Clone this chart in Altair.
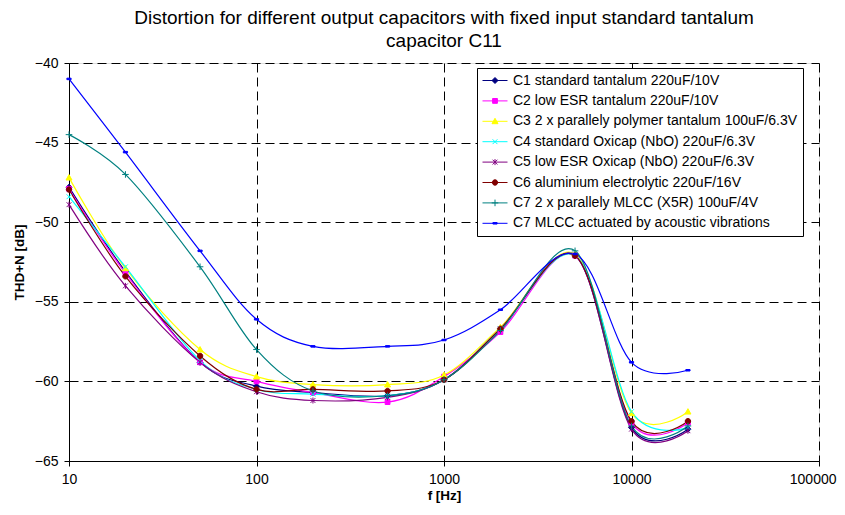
import re
import altair as alt
import pandas as pd

# ---------------- data ----------------
freqs = [10, 20, 50, 100, 200, 500, 1000, 2000, 5000, 10000, 20000]

series_names = [
    "C1 standard tantalum 220uF/10V",
    "C2 low ESR tantalum 220uF/10V",
    "C3 2 x parallely polymer tantalum 100uF/6.3V",
    "C4 standard Oxicap (NbO) 220uF/6.3V",
    "C5 low ESR Oxicap (NbO) 220uF/6.3V",
    "C6 aluminium electrolytic 220uF/16V",
    "C7 2 x parallely MLCC (X5R) 100uF/4V",
    "C7 MLCC actuated by acoustic vibrations",
]

c1 = [-47.8, -53.1, -58.8, -60.3, -60.7, -60.9, -59.9, -56.7, -52.1, -62.9, -63.0]
c2 = [-47.9, -53.2, -58.8, -60.0, -60.7, -61.3, -59.7, -56.9, -52.1, -62.6, -62.6]
c3 = [-47.2, -52.9, -58.0, -59.7, -60.2, -60.2, -59.6, -56.6, -52.0, -62.0, -61.9]
c4 = [-48.4, -52.8, -58.7, -60.5, -60.8, -60.9, -59.9, -56.7, -52.1, -61.9, -62.9]
c5 = [-48.9, -54.0, -58.8, -60.65, -61.2, -61.0, -59.9, -56.7, -52.1, -63.0, -63.1]
c6 = [-47.95, -53.4, -58.4, -60.5, -60.5, -60.6, -59.9, -56.7, -52.1, -62.5, -62.5]
c7 = [-44.5, -47.0, -52.8, -58.0, -60.6, -60.9, -59.9, -56.8, -51.8, -62.8, -62.8]
c8 = [-41.0, -45.6, -51.8, -56.1, -57.8, -57.8, -57.4, -55.5, -52.0, -58.8, -59.3]
series_values = [c1, c2, c3, c4, c5, c6, c7, c8]

colors = ["#000080", "#FF00FF", "#FFFF00", "#00FFFF",
          "#800080", "#800000", "#008080", "#0000FF"]

x_ticks = [10, 100, 1000, 10000, 100000]
y_ticks = [-65, -60, -55, -50, -45, -40]

# ---------------- styles ----------------
# marker shapes in unit coordinates (-1..1)
marker_paths = [
    "M0,-1L1,0L0,1L-1,0Z",                                   # diamond
    "M-0.8,-0.8L0.8,-0.8L0.8,0.8L-0.8,0.8Z",                 # square
    "M0,-1L1,0.8L-1,0.8Z",                                   # triangle
    "M-0.8,-0.8L0.8,0.8M-0.8,0.8L0.8,-0.8",                  # x
    "M-0.8,-0.8L0.8,0.8M-0.8,0.8L0.8,-0.8M0,-1L0,1",         # asterisk
    "M-0.9,0A0.9,0.9,0,1,1,0.9,0A0.9,0.9,0,1,1,-0.9,0Z",     # circle
    "M-1.1,0L1.1,0M0,-1.1L0,1.1",                            # plus
    "M-0.7,-0.25L0.7,-0.25L0.7,0.25L-0.7,0.25Z",             # dash
]


def scale_path(p, k):
    return re.sub(r"-?\d+(?:\.\d+)?",
                  lambda m: f"{float(m.group(0)) * k:.3f}", p)


def legend_path(p):
    if "A" in p:
        r = 0.9 * 0.24
        return (f"M-1,0L1,0M{-r:.3f},0A{r:.3f},{r:.3f},0,1,1,{r:.3f},0"
                f"A{r:.3f},{r:.3f},0,1,1,{-r:.3f},0Z")
    return "M-1,0L1,0" + scale_path(p, 0.24)


legend_paths = [legend_path(p) for p in marker_paths]

rows = []
for name, vals in zip(series_names, series_values):
    for f, v in zip(freqs, vals):
        rows.append({"series": name, "f": f, "thd": v})
df = pd.DataFrame(rows)

FONT = "Liberation Sans"

color_scale = alt.Scale(domain=series_names, range=colors)
shape_scale = alt.Scale(domain=series_names, range=legend_paths)

leg = alt.Legend(
    title=None,
    orient="none",
    legendX=408,
    legendY=5,
    fillColor="white",
    strokeColor="black",
    padding=5,
    labelFont=FONT,
    labelFontSize=14,
    labelColor="black",
    labelOffset=5,
    labelLimit=500,
    symbolSize=625,
    symbolStrokeWidth=1,
    symbolOpacity=1,
    clipHeight=15,
    rowPadding=5.4,
)

last_x = "datum.value == 100000"
x_enc = alt.X(
    "f:Q",
    scale=alt.Scale(type="log", domain=[10, 100000], nice=False),
    axis=alt.Axis(
        values=x_ticks, format="d", title="f [Hz]",
        labelFont=FONT, labelFontSize=14, labelColor="black",
        labelPadding=6, tickSize=5, tickColor="black",
        labelAlign={"condition": {"test": last_x, "value": "right"}, "value": "center"},
        labelOffset={"condition": {"test": last_x, "value": 17}, "value": 0},
        domainColor="black", grid=True, gridColor="black",
        gridDash=[9, 5], gridWidth=1,
        titleFont=FONT, titleFontSize=13.5, titleFontWeight="bold",
        titleColor="black", titlePadding=2,
    ),
)
y_enc = alt.Y(
    "thd:Q",
    scale=alt.Scale(domain=[-65, -40], nice=False, zero=False),
    axis=alt.Axis(
        values=y_ticks, title="THD+N [dB]",
        labelFont=FONT, labelFontSize=14, labelColor="black",
        labelPadding=6, tickSize=5, tickColor="black",
        domainColor="black", grid=True, gridColor="black",
        gridDash=[9, 5], gridWidth=1,
        titleFont=FONT, titleFontSize=13.5, titleFontWeight="bold",
        titleColor="black", titlePadding=8,
    ),
)

base = alt.Chart(df)

lines = base.mark_line(interpolate="cardinal", strokeWidth=1.2).encode(
    x=x_enc, y=y_enc,
    stroke=alt.Stroke("series:N", scale=color_scale, legend=leg),
    detail="series:N",
)

marker_layers = []
for name, path in zip(series_names, marker_paths):
    marker_layers.append(
        base.transform_filter(alt.datum.series == name)
        .mark_point(shape=path, size=36, strokeWidth=1, opacity=1)
        .encode(
            x=x_enc, y=y_enc,
            fill=alt.Fill("series:N", scale=color_scale, legend=leg),
            stroke=alt.Stroke("series:N", scale=color_scale, legend=leg),
        )
    )

legend_layer = base.mark_point(opacity=0).encode(
    x=x_enc, y=y_enc,
    shape=alt.Shape("series:N", scale=shape_scale, legend=leg),
    fill=alt.Fill("series:N", scale=color_scale, legend=leg),
    stroke=alt.Stroke("series:N", scale=color_scale, legend=leg),
)

chart = alt.layer(lines, *marker_layers, legend_layer).properties(
    width=750,
    height=398,
    padding={"left": 61, "top": 55, "right": 18, "bottom": 42},
    autosize=alt.AutoSizeParams(type="none"),
    title=alt.TitleParams(
        text=["Distortion for different output capacitors with fixed input standard tantalum",
              "capacitor C11"],
        font=FONT, fontSize=19, fontWeight="normal", color="black",
        anchor="middle", lineHeight=23, offset=5,
    ),
).configure_view(stroke="transparent").configure(background="white")

chart.save("out.html", embed_options={"renderer": "svg", "actions": False})
